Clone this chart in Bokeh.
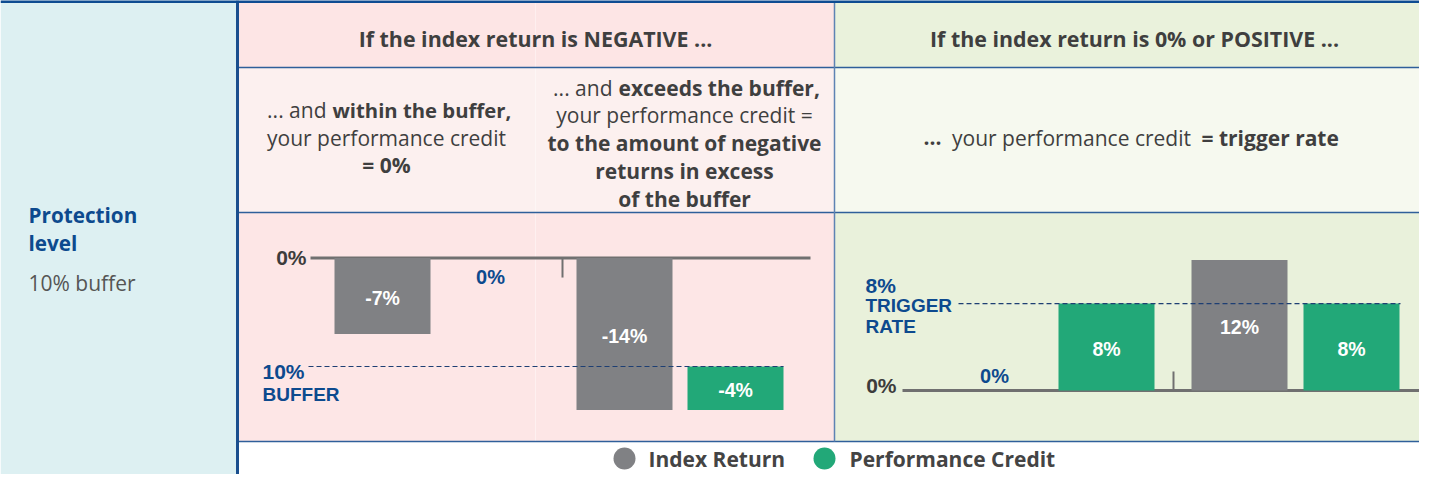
from bokeh.plotting import figure
from bokeh.models import Range1d
from bokeh.core.properties import value
from bokeh.embed import file_html
from bokeh.resources import INLINE

# ---------------- data ----------------
series_names = ["Index Return", "Performance Credit"]
neg_index_return = [-7, -14]          # index return is negative: within / exceeds buffer
neg_performance_credit = [0, -4]
pos_index_return = [0, 12]            # index return is 0% or positive
pos_performance_credit = [8, 8]
buffer_level = -10
trigger_rate = 8
protection_label = "10% buffer"

# ---------------- layout (reference pixel space) ----------------
W, H = 1435, 490
FW, FH = 1419, 474
neg_index_x = [382, 624]
neg_credit_x = [490, 735]
pos_index_x = [994, 1239]
pos_credit_x = [1106, 1351]
BAR_W = 96
NEG_ZERO_PX, NEG_PX_PER = 257.5, 10.85
POS_ZERO_PX, POS_PX_PER = 390.0, 10.87
LEGEND_Y = 458

GREY = "#808184"
GREEN = "#22A878"
BLUE = "#0D4A8E"
TXT = "#3F3F3F"
BF = "Open Sans"
CF = "Liberation Sans"


def pct_range(zero_px, px_per):
    end = zero_px / px_per
    start = end - FH / px_per
    return Range1d(start, end)


p = figure(width=FW, height=FH,
           x_range=Range1d(0, FW), y_range=Range1d(FH, 0),
           x_axis_location=None, y_axis_location=None,
           output_backend="svg", toolbar_location=None, min_border=0,
           background_fill_color="white", border_fill_color="white")
p.grid.visible = False
p.outline_line_color = None
p.extra_y_ranges = {"neg": pct_range(NEG_ZERO_PX, NEG_PX_PER),
                    "pos": pct_range(POS_ZERO_PX, POS_PX_PER)}

# ---------------- table backgrounds ----------------
p.quad(left=[0, 236, 834, 236, 834, 236, 834],
       right=[236, 834, W, 834, W, 834, W],
       top=[0, 2, 2, 67, 67, 212, 212],
       bottom=[H, 67, 67, 212, 212, 441, 441],
       fill_color=["#DDF0F2", "#FDE5E5", "#EAF2DC", "#FCF0EF", "#F6F9EF", "#FDE6E6", "#E9F1DB"],
       line_color=None)
# faint column divider inside the negative block
p.segment(x0=[535], y0=[2], x1=[535], y1=[441], line_color="white", line_alpha=0.4, line_width=1)
# rules
p.segment(x0=[236, 236, 236], y0=[67, 212, 441], x1=[W, W, W], y1=[67, 212, 441],
          line_color="#2F5F9A", line_width=1.5)
p.segment(x0=[834], y0=[2], x1=[834], y1=[441], line_color="#5E83B3", line_width=1.5)
p.segment(x0=[237], y0=[0], x1=[237], y1=[H], line_color="#1A4E8E", line_width=3)
p.segment(x0=[0], y0=[1], x1=[W], y1=[1], line_color="#0E4C92", line_width=3)


def txt(x, y, s, size, bold=False, color=TXT, align="left", font=BF, **kw):
    p.text(x=[x], y=[y], text=[s], text_font=value(font), text_font_size=f"{size}px",
           text_font_style="bold" if bold else "normal", text_color=color,
           text_align=align, text_baseline="middle", **kw)


# ---------------- table texts ----------------
txt(535, 38, "If the index return is NEGATIVE ...", 21.4, True, align="center")
txt(1134, 38, "If the index return is 0% or POSITIVE ...", 21.4, True, align="center")

txt(326, 109, "... and", 21, align="right")
txt(332, 109, "within the buffer,", 20.3, True)
txt(386, 137, "your performance credit", 21, align="center")
txt(386, 164, "= 0%", 21, True, align="center")

txt(612, 87, "... and", 21, align="right")
txt(618, 87, "exceeds the buffer,", 21, True)
txt(684, 114, "your performance credit =", 21, align="center")
txt(684, 142, "to the amount of negative", 21, True, align="center")
txt(684, 170, "returns in excess", 21, True, align="center")
txt(684, 198, "of the buffer", 21, True, align="center")

txt(941, 137, "...", 21, True, align="right")
txt(1071, 137, "your performance credit", 21, align="center")
txt(1201, 137, "= trigger rate", 21, True)

txt(28, 214, "Protection", 20.7, True, color=BLUE)
txt(28, 242, "level", 20.7, True, color=BLUE)
txt(28, 282, protection_label, 21, color="#555555")

# ---------------- negative chart ----------------
p.segment(x0=[310], y0=[0], x1=[810], y1=[0], line_color="#707070", line_width=3,
          y_range_name="neg")
p.segment(x0=[562], y0=[0], x1=[562], y1=[-1.8], line_color="#707070", line_width=2,
          y_range_name="neg")
p.vbar(x=neg_index_x, top=[0, 0], bottom=neg_index_return, width=BAR_W,
       fill_color=GREY, line_color=None, y_range_name="neg")
nz = [(x, v) for x, v in zip(neg_credit_x, neg_performance_credit) if v != 0]
p.vbar(x=[x for x, _ in nz], top=[buffer_level] * len(nz),
       bottom=[buffer_level + v for _, v in nz], width=BAR_W,
       fill_color=GREEN, line_color=None, y_range_name="neg")
p.segment(x0=[308], y0=[buffer_level], x1=[783], y1=[buffer_level],
          line_color="#1E3F73", line_width=1.2, line_dash="5 3", y_range_name="neg")

p.text(x=neg_index_x, y=[v / 2 for v in neg_index_return],
       text=[f"{v}%" for v in neg_index_return], text_color="white",
       text_font=value(CF), text_font_style="bold", text_font_size="19.5px",
       text_align="center", text_baseline="middle", y_offset=2, y_range_name="neg")
p.text(x=[x for x, _ in nz], y=[buffer_level + v / 2 for _, v in nz],
       text=[f"{v}%" for _, v in nz], text_color="white",
       text_font=value(CF), text_font_style="bold", text_font_size="19.5px",
       text_align="center", text_baseline="middle", y_offset=2, y_range_name="neg")
zc = [x for x, v in zip(neg_credit_x, neg_performance_credit) if v == 0]
p.text(x=zc, y=[0] * len(zc), text=["0%"] * len(zc), text_color=BLUE,
       text_font=value(CF), text_font_style="bold", text_font_size="20px",
       text_align="center", text_baseline="middle", y_offset=19, y_range_name="neg")

txt(306, 0, "0%", 21, True, color="#3C3C3C", align="right", font=CF, y_range_name="neg", y_offset=-1)
txt(262, buffer_level, f"{abs(buffer_level)}%", 21, True, color=BLUE, font=CF,
    y_range_name="neg", y_offset=5)
txt(262, buffer_level, "BUFFER", 19, True, color=BLUE, font=CF, y_range_name="neg", y_offset=28)

# ---------------- positive chart ----------------
p.segment(x0=[902], y0=[0], x1=[1420], y1=[0], line_color="#707070", line_width=3,
          y_range_name="pos")
p.segment(x0=[1173], y0=[0], x1=[1173], y1=[1.75], line_color="#707070", line_width=2,
          y_range_name="pos")
pi = [(x, v) for x, v in zip(pos_index_x, pos_index_return) if v != 0]
p.vbar(x=[x for x, _ in pi], top=[v for _, v in pi], bottom=0, width=BAR_W,
       fill_color=GREY, line_color=None, y_range_name="pos")
p.vbar(x=pos_credit_x, top=pos_performance_credit, bottom=0, width=BAR_W,
       fill_color=GREEN, line_color=None, y_range_name="pos")
p.segment(x0=[958], y0=[trigger_rate], x1=[1400], y1=[trigger_rate],
          line_color="#1E3F73", line_width=1.2, line_dash="5 3", y_range_name="pos")

p.text(x=[x for x, _ in pi], y=[v / 2 for _, v in pi], text=[f"{v}%" for _, v in pi],
       text_color="white", text_font=value(CF), text_font_style="bold", text_font_size="19.5px",
       text_align="center", text_baseline="middle", y_offset=2, y_range_name="pos")
p.text(x=pos_credit_x, y=[v / 2 for v in pos_performance_credit],
       text=[f"{v}%" for v in pos_performance_credit],
       text_color="white", text_font=value(CF), text_font_style="bold", text_font_size="19.5px",
       text_align="center", text_baseline="middle", y_offset=2, y_range_name="pos")
zi = [x for x, v in zip(pos_index_x, pos_index_return) if v == 0]
p.text(x=zi, y=[0] * len(zi), text=["0%"] * len(zi), text_color=BLUE,
       text_font=value(CF), text_font_style="bold", text_font_size="20px",
       text_align="center", text_baseline="middle", y_offset=-15, y_range_name="pos")

txt(896, 0, "0%", 21, True, color="#3C3C3C", align="right", font=CF, y_range_name="pos", y_offset=-5)
txt(865, trigger_rate, f"{trigger_rate}%", 21, True, color=BLUE, font=CF,
    y_range_name="pos", y_offset=-18)
txt(865, trigger_rate, "TRIGGER", 19, True, color=BLUE, font=CF, y_range_name="pos", y_offset=2)
txt(865, trigger_rate, "RATE", 19, True, color=BLUE, font=CF, y_range_name="pos", y_offset=23)

# ---------------- legend ----------------
p.scatter(x=[624, 824], y=[LEGEND_Y, LEGEND_Y], size=22, marker="circle",
          fill_color=[GREY, GREEN], line_color=None)
txt(648, LEGEND_Y, series_names[0], 21, True, color="#444444")
txt(849, LEGEND_Y, series_names[1], 21, True, color="#444444")

open("out.html", "w").write(file_html(p, INLINE))
